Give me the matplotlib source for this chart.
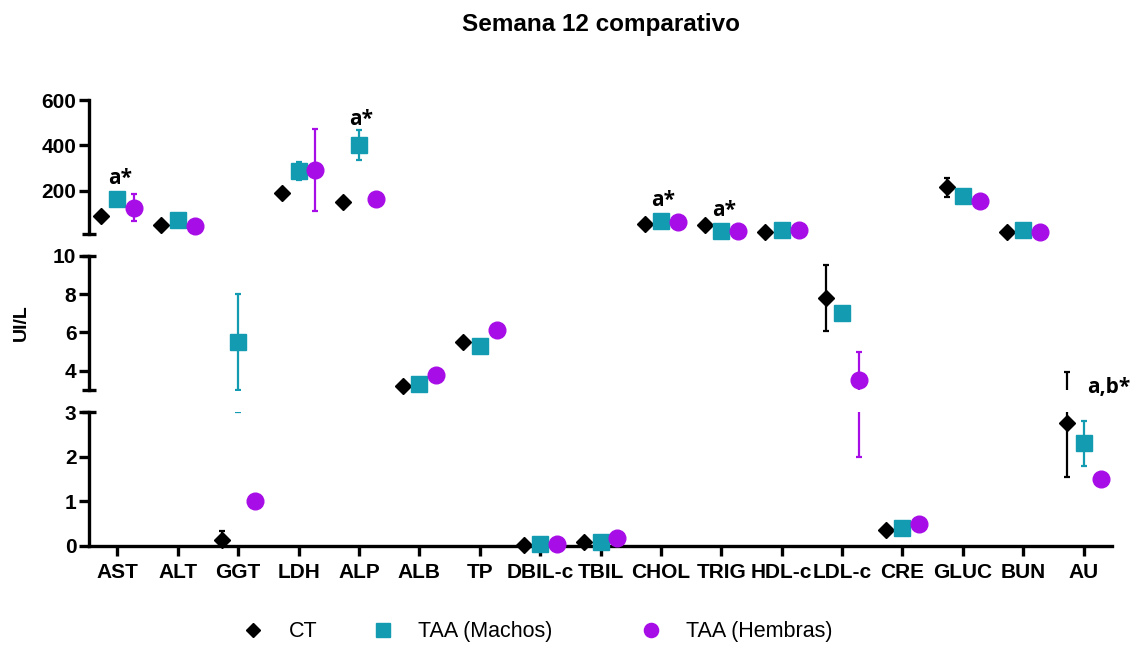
import numpy as np
import matplotlib
matplotlib.use("Agg")
import matplotlib.pyplot as plt
from matplotlib.lines import Line2D

plt.rcParams['font.family'] = ['Liberation Sans', 'DejaVu Sans']

# datos (semana 12)
categories = ['AST', 'ALT', 'GGT', 'LDH', 'ALP', 'ALB', 'TP', 'DBIL-c', 'TBIL',
              'CHOL', 'TRIG', 'HDL-c', 'LDL-c', 'CRE', 'GLUC', 'BUN', 'AU']
ct = [90, 51, 0.14, 190, 153, 3.2, 5.5, 0.03, 0.1, 55, 51, 21, 7.8, 0.37, 216, 18, 2.75]
ct_err = [0, 0, 0.2, 0, 0, 0, 0, 0, 0, 0, 0, 0, 1.7, 0, 43, 0, 1.2]
machos = [165, 73, 5.5, 289, 402, 3.3, 5.3, 0.04, 0.1, 68, 26, 29, 7.0, 0.4, 178, 29, 2.3]
machos_err = [0, 0, 2.5, 40, 67, 0, 0, 0, 0, 0, 0, 0, 0, 0, 0, 0, 0.5]
hembras = [127, 47, 1.0, 294, 163, 3.8, 6.15, 0.04, 0.17, 65, 26, 29, 3.5, 0.5, 157, 21, 1.5]
hembras_err = [60, 0, 0, 180, 0, 0, 0, 0, 0, 0, 0, 0, 1.5, 0, 0, 0, 0]

# anotaciones: (categoria, texto, valor)
sig_labels = [('AST', 'a*', 257), ('ALP', 'a*', 516), ('CHOL', 'a*', 158), ('TRIG', 'a*', 114)]

col_ct = 'black'
col_m = '#129bb1'
col_h = '#a70de6'

series = [
    (ct, ct_err, -0.27, 'D', 8, col_ct, 'CT'),
    (machos, machos_err, 0.0, 's', 12, col_m, 'TAA (Machos)'),
    (hembras, hembras_err, 0.28, 'o', 12, col_h, 'TAA (Hembras)'),
]

fig = plt.figure(figsize=(11.38, 6.46), dpi=100)
L, W = 0.0782, 0.899
ax_top = fig.add_axes([L, 0.6375, W, 0.2077])
ax_mid = fig.add_axes([L, 0.3963, W, 0.2079])
ax_bot = fig.add_axes([L, 0.1548, W, 0.2070])

ranges = {ax_top: (10, 600), ax_mid: (3, 10), ax_bot: (0, 3)}
yticks = {ax_top: [200, 400, 600], ax_mid: [4, 6, 8, 10], ax_bot: [0, 1, 2, 3]}

x = np.arange(len(categories))
lw = 2.4

for ax, (lo, hi) in ranges.items():
    for vals, errs, off, mk, ms, col, lab in series:
        v = np.array(vals, dtype=float)
        e = np.array(errs, dtype=float)
        # barras de error solo si tocan el tramo
        m = (e > 0) & (v + e > lo) & (v - e <= hi)
        if m.any():
            ax.errorbar(x[m] + off, v[m], yerr=e[m], fmt='none', ecolor=col,
                        elinewidth=1.6, capsize=2.2, capthick=1.6, zorder=2)
        # marcadores solo en su tramo
        k = (v >= lo) & (v <= hi)
        ax.plot(x[k] + off, v[k], linestyle='none', marker=mk, markersize=ms,
                color=col, markeredgecolor=col, clip_on=False, zorder=3)

    ax.set_ylim(lo, hi)
    ax.set_xlim(-0.47, 16.47)
    ax.set_yticks(yticks[ax])
    for s in ['top', 'right']:
        ax.spines[s].set_visible(False)
    ax.spines['left'].set_linewidth(lw)
    ax.tick_params(axis='y', width=lw, length=7, labelsize=15, pad=2)
    for t in ax.get_yticklabels():
        t.set_fontweight('bold')
    if ax is not ax_bot:
        ax.spines['bottom'].set_visible(False)
        ax.set_xticks([])
    # marcas de corte del eje
    ends = []
    if ax is not ax_top:
        ends.append(1)
    if ax is not ax_bot:
        ends.append(0)
    for yy in ends:
        ax.plot([-0.0065, 0.0065], [yy, yy], transform=ax.transAxes, color='black',
                linewidth=lw, clip_on=False, solid_capstyle='butt')

ax_bot.spines['bottom'].set_linewidth(lw)
ax_bot.set_xticks(x)
ax_bot.set_xticklabels(categories, fontsize=15, fontweight='bold')
ax_bot.tick_params(axis='x', width=lw, length=7, pad=5)

# letras de significancia
for cat, txt, val in sig_labels:
    i = categories.index(cat)
    ax_top.text(i + 0.04, val, txt, ha='center', va='center', fontsize=15,
                fontweight='bold', family=['Open Sans', 'DejaVu Sans'], clip_on=False)
ax_mid.text(16.41, 3.15, 'a,b*', ha='center', va='center', fontsize=15,
            fontweight='bold', family=['Open Sans', 'DejaVu Sans'], clip_on=False)

fig.text(0.528, 0.962, 'Semana 12 comparativo', ha='center', va='center',
         fontsize=17.5, fontweight='bold')
fig.text(0.019, 0.5, 'UI/L', rotation=90, ha='center', va='center',
         fontsize=14, fontweight='bold')

# leyenda: una entrada por posicion
leg_x = [0.2132, 0.3274, 0.5629]
for (vals, errs, off, mk, ms, col, lab), lx in zip(series, leg_x):
    h = Line2D([], [], linestyle='none', marker=mk, markersize=ms * 0.85,
               color=col, label=lab)
    fig.legend(handles=[h], loc='center left', bbox_to_anchor=(lx, 0.022),
               frameon=False, fontsize=15.5, handlelength=1.0, handletextpad=1.13,
               borderpad=0, borderaxespad=0)

fig.savefig('out.png', dpi=100)
